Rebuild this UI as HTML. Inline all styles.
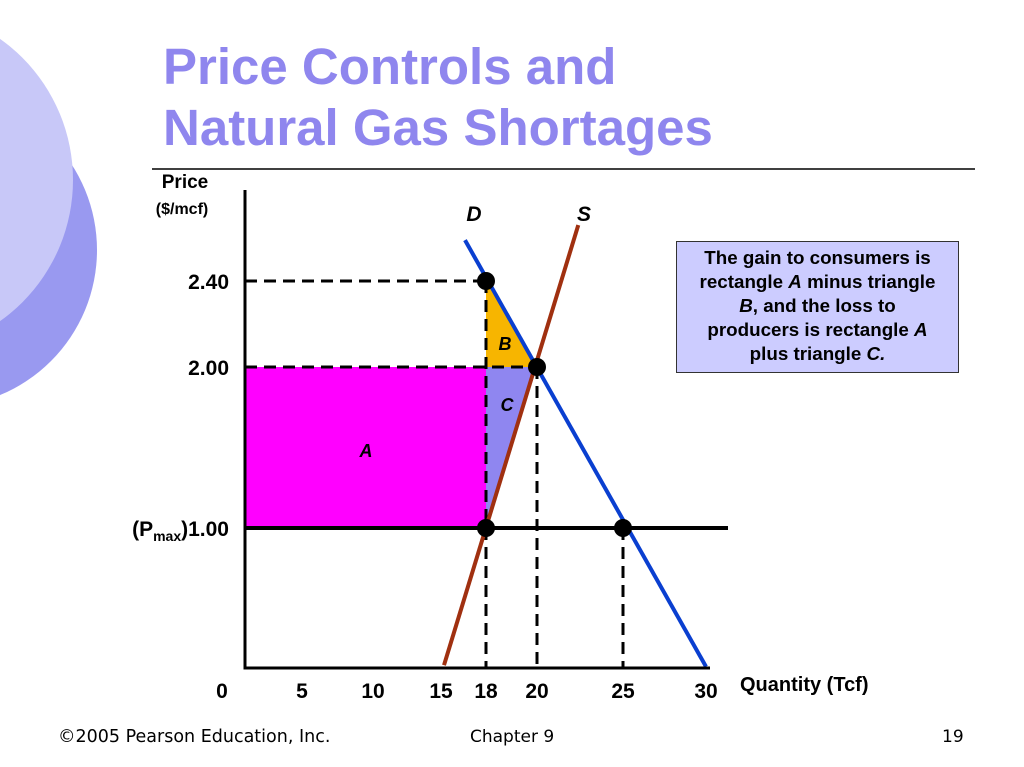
<!DOCTYPE html>
<html><head><meta charset="utf-8"><style>
html,body{margin:0;padding:0;background:#fff;}
body{width:1024px;height:767px;position:relative;overflow:hidden;font-family:"Liberation Sans",sans-serif;}
.t{position:absolute;}
</style></head><body>
<svg width="1024" height="767" style="position:absolute;left:0;top:0">
<circle cx="-60" cy="250" r="157" fill="#9999f0"/>
<circle cx="-100" cy="180" r="173" fill="#c8c8f8"/>
<line x1="152" y1="169" x2="975" y2="169" stroke="#000" stroke-width="1.5"/>
</svg>
<div class="t" style="left:163px;top:36px;font-size:51px;font-weight:bold;color:#8f86ee;line-height:61px;">Price Controls and<br>Natural Gas Shortages</div>
<svg id="chart" width="1024" height="767" style="position:absolute;left:0;top:0"></svg>
<div class="t" style="left:676px;top:241px;width:283px;height:132px;box-sizing:border-box;background:#ccccff;border:1.5px solid #333;font-size:18.8px;font-weight:bold;text-align:center;line-height:24px;padding-top:4px;white-space:nowrap;">The gain to consumers is<br>rectangle <i>A</i> minus triangle<br><i>B</i>, and the loss to<br>producers is rectangle <i>A</i><br>plus triangle <i>C.</i></div>
<div class="t" style="left:58px;top:727px;font-size:17.5px;font-family:'DejaVu Sans',sans-serif;">©2005 Pearson Education, Inc.</div>
<div class="t" style="left:470px;top:727px;font-size:17px;font-family:'DejaVu Sans',sans-serif;">Chapter 9</div>
<div class="t" style="left:942px;top:727px;font-size:17px;font-family:'DejaVu Sans',sans-serif;">19</div>
<script>
const xTickVals=[0,5,10,15,18,20,25,30];
const yTickVals=[1.00,2.00,2.40];
const supplyPts=[[15.2,0.02],[22.4,2.66]];
const demandPts=[[16.6,2.59],[30,0.01]];
const pMax=1.00, pEq=2.00, pHigh=2.40;
const qSupplied=18, qEq=20, qDemanded=25;

const xBreaks=[[0,245],[5,302],[10,373],[15,441],[18,486],[20,537],[25,623],[30,706],[35,790]];
const yBreaks=[[0,668],[1,528],[2,367],[2.4,281],[2.8,195]];
function pw(b,v){for(let i=0;i<b.length-1;i++){const a=b[i],c=b[i+1];if(v<=c[0]||i==b.length-2){return a[1]+(v-a[0])*(c[1]-a[1])/(c[0]-a[0]);}}}
const X=v=>pw(xBreaks,v), Y=v=>pw(yBreaks,v);
const svg=document.getElementById('chart');const NS='http://www.w3.org/2000/svg';
function el(t,a,txt){const e=document.createElementNS(NS,t);for(const k in a)e.setAttribute(k,a[k]);if(txt!==undefined)e.textContent=txt;svg.appendChild(e);return e;}
let e;
e=el('rect',{x:X(0),y:Y(pEq),width:X(qSupplied)-X(0),height:Y(pMax)-Y(pEq),fill:'#ff00ff'});


e=el('polygon',{points:`${X(qSupplied)},${Y(pHigh)} ${X(qSupplied)},${Y(pEq)} ${X(qEq)},${Y(pEq)}`,fill:'#f7b500'});


e=el('polygon',{points:`${X(qSupplied)},${Y(pEq)} ${X(qEq)},${Y(pEq)} ${X(qSupplied)},${Y(pMax)}`,fill:'#8f86f0'});


const dash={stroke:'#000','stroke-width':3,'stroke-dasharray':'12,7',fill:'none'};
function dl(x1,y1,x2,y2,n){const d=el('line',Object.assign({x1,y1,x2,y2},dash));}
dl(X(0),Y(pHigh),X(qSupplied),Y(pHigh),'dash-pHigh');
dl(X(0),Y(pEq),X(qEq),Y(pEq),'dash-pEq');
dl(X(qSupplied),Y(pHigh),X(qSupplied),Y(0),'dash-q-supplied');
dl(X(qEq),Y(pEq),X(qEq),Y(0),'dash-q-eq');
dl(X(qDemanded),Y(pMax),X(qDemanded),Y(0),'dash-q-demanded');
e=el('line',{x1:X(0),y1:Y(pMax),x2:728,y2:Y(pMax),stroke:'#000','stroke-width':4});


e=el('line',{x1:X(supplyPts[0][0]),y1:Y(supplyPts[0][1]),x2:X(supplyPts[1][0]),y2:Y(supplyPts[1][1]),stroke:'#a03010','stroke-width':4});


e=el('line',{x1:X(demandPts[0][0]),y1:Y(demandPts[0][1]),x2:X(demandPts[1][0]),y2:Y(demandPts[1][1]),stroke:'#0a3fd0','stroke-width':4});


e=el('polyline',{points:`${X(0)},190 ${X(0)},${Y(0)} 710,${Y(0)}`,stroke:'#000','stroke-width':3,fill:'none'});


[[qSupplied,pHigh],[qEq,pEq],[qSupplied,pMax],[qDemanded,pMax]].forEach(p=>{
 const c=el('circle',{cx:X(p[0]),cy:Y(p[1]),r:9,fill:'#000'});
 
 
});
const tf='font-family:"Liberation Sans",sans-serif;font-weight:bold;';
xTickVals.forEach(v=>{
 const t=el('text',{x:v===0?222:X(v),y:698,'text-anchor':'middle',style:tf+'font-size:21px'},String(v));
 
 
});
yTickVals.forEach(v=>{
 const t=el('text',{x:229,y:Y(v)+8,'text-anchor':'end',style:tf+'font-size:21px'});
 
 
 if(v===pMax){
  const s1=document.createElementNS(NS,'tspan');s1.textContent='(P';t.appendChild(s1);
  const s2=document.createElementNS(NS,'tspan');s2.textContent='max';s2.setAttribute('style','font-size:14px');s2.setAttribute('dy','5');t.appendChild(s2);
  const s3=document.createElementNS(NS,'tspan');s3.textContent=')'+v.toFixed(2);s3.setAttribute('dy','-5');t.appendChild(s3);
 } else t.textContent=v.toFixed(2);
});
[[185,188,'Price',19,'y-axis-title'],[182,214,'($/mcf)',16,'y-axis-unit'],[740,691,'Quantity (Tcf)',20,'x-axis-title']].forEach(a=>{
 const t=el('text',{x:a[0],y:a[1],'text-anchor':a[4]==='x-axis-title'?'start':'middle',style:tf+'font-size:'+a[3]+'px'},a[2]);
 
 
});
[[474,221,'D','demand-label',21],[584,221,'S','supply-label',21],[505,350,'B','area-b-label',18],[507,411,'C','area-c-label',18],[366,457,'A','area-a-label',18]].forEach(a=>{
 const t=el('text',{x:a[0],y:a[1],'text-anchor':'middle',style:tf+'font-style:italic;font-size:'+a[4]+'px'},a[2]);
 
 
});
</script>
</body></html>
